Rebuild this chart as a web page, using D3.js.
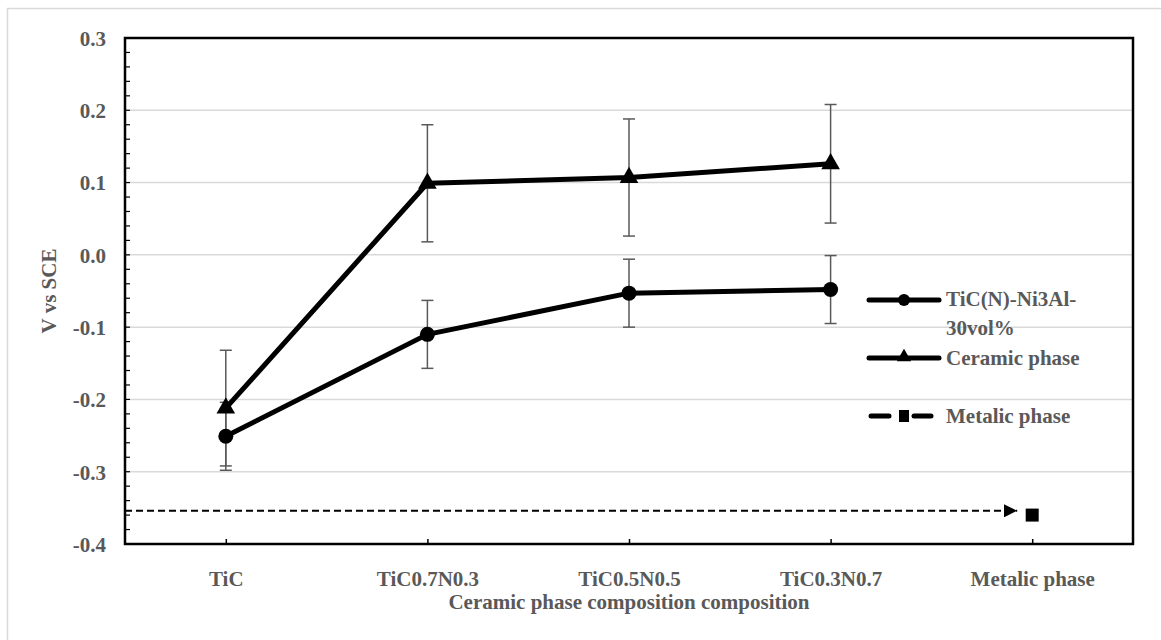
<!DOCTYPE html>
<html>
<head>
<meta charset="utf-8">
<script src="https://cdn.jsdelivr.net/npm/d3@7"></script>
<style>
  body { margin: 0; background: #fff; }
  svg { display: block; }
  text { font-family: "Liberation Serif", "Times New Roman", serif; font-weight: bold; fill: #595959; }
</style>
</head>
<body>
<svg id="chart" width="1161" height="640"></svg>
<script>
// categories on the x axis
const categories = ["TiC", "TiC0.7N0.3", "TiC0.5N0.5", "TiC0.3N0.7", "Metalic phase"]
const yTicks = [0.3, 0.2, 0.1, 0.0, -0.1, -0.2, -0.3, -0.4]

// TiC(N)-Ni3Al-30vol% (circles)
const compositeCats = ["TiC", "TiC0.7N0.3", "TiC0.5N0.5", "TiC0.3N0.7"]
const compositeVals = [-0.251, -0.110, -0.053, -0.048]
const compositeErr = [0.047, 0.047, 0.047, 0.047]

// Ceramic phase (triangles)
const ceramicVals = [-0.212, 0.099, 0.107, 0.126]
const ceramicErr = [0.080, 0.081, 0.081, 0.082]

// Metalic phase (single square + dashed reference line)
const metalicCat = "Metalic phase"
const metalicVal = -0.360
const metalicLineVal = -0.354

const fontSize = "21px"

const svg = d3.select("#chart")
const margin = { top: 38, right: 28, bottom: 96, left: 125 }
const width = 1161 - margin.left - margin.right
const height = 640 - margin.top - margin.bottom

// outer chart frame
svg.append("rect")
  .attr("x", 7.5).attr("y", 8.5)
  .attr("width", 1170).attr("height", 660)
  .attr("fill", "none")
  .attr("stroke", "#d9d9d9")
  .attr("stroke-width", 1.5)

const g = svg.append("g").attr("transform", `translate(${margin.left},${margin.top})`)

const x = d3.scalePoint().domain(categories).range([0, width]).padding(0.5)
const y = d3.scaleLinear().domain([-0.4, 0.3]).range([height, 0])

// gridlines
g.append("g")
  .selectAll("line")
  .data(yTicks.filter(d => d > -0.39 && d < 0.29))
  .join("line")
    .attr("x1", 0).attr("x2", width)
    .attr("y1", d => y(d)).attr("y2", d => y(d))
    .attr("stroke", "#d9d9d9")
    .attr("stroke-width", 1.5)

// minor ticks on the y axis (inside)
const minor = d3.range(-0.4, 0.3001, 0.02)
g.append("g")
  .selectAll("line")
  .data(minor)
  .join("line")
    .attr("x1", 0).attr("x2", 5)
    .attr("y1", d => y(d)).attr("y2", d => y(d))
    .attr("stroke", "#000")
    .attr("stroke-width", 1.2)

// y axis labels (plain hyphen for negatives, like the original)
const fmt = d => d3.format(".1f")(d).replace("\u2212", "-")
const yAxis = g.append("g")
  .call(d3.axisLeft(y).tickValues(yTicks).tickFormat(fmt).tickSize(0).tickPadding(19))
yAxis.attr("font-family", null).attr("font-size", null)
yAxis.select(".domain").remove()
yAxis.selectAll("text")
  .attr("font-size", fontSize)
  .attr("fill", null)
  .attr("dy", "0.35em")

// x axis labels + ticks pointing up
const xAxis = g.append("g")
  .attr("transform", `translate(0,${height})`)
  .call(d3.axisBottom(x).tickSize(-5).tickPadding(27))
xAxis.attr("font-family", null).attr("font-size", null)
xAxis.select(".domain").remove()
xAxis.selectAll(".tick line").attr("stroke", "#000").attr("stroke-width", 1.5)
xAxis.selectAll("text")
  .attr("font-size", fontSize)
  .attr("fill", null)

// plot border
g.append("rect")
  .attr("x", 0).attr("y", 0)
  .attr("width", width).attr("height", height)
  .attr("fill", "none")
  .attr("stroke", "#000")
  .attr("stroke-width", 2.5)

// dashed metalic line with arrow
svg.append("defs").append("marker")
  .attr("id", "arrow")
  .attr("viewBox", "0 0 10 10")
  .attr("refX", 10).attr("refY", 5)
  .attr("markerWidth", 6).attr("markerHeight", 6)
  .attr("markerUnits", "strokeWidth")
  .attr("orient", "auto")
  .append("path")
    .attr("d", "M0,0 L10,5 L0,10 Z")
    .attr("fill", "#000")

g.append("line")
  .attr("x1", 0)
  .attr("x2", x(metalicCat) - 15)
  .attr("y1", y(metalicLineVal)).attr("y2", y(metalicLineVal))
  .attr("stroke", "#000")
  .attr("stroke-width", 2.2)
  .attr("stroke-dasharray", "7,4")
  .attr("marker-end", "url(#arrow)")

g.append("rect")
  .attr("x", x(metalicCat) - 6.5)
  .attr("y", y(metalicVal) - 6.5)
  .attr("width", 13).attr("height", 13)
  .attr("fill", "#000")

// error bars
function errorBars(vals, errs) {
  const eb = g.append("g")
  compositeCats.forEach((c, i) => {
    const cx = x(c)
    const lo = y(vals[i] - errs[i]), hi = y(vals[i] + errs[i])
    eb.append("line").attr("x1", cx).attr("x2", cx).attr("y1", lo).attr("y2", hi)
      .attr("stroke", "#595959").attr("stroke-width", 1.5)
    ;[lo, hi].forEach(yy => {
      eb.append("line").attr("x1", cx - 6).attr("x2", cx + 6).attr("y1", yy).attr("y2", yy)
        .attr("stroke", "#595959").attr("stroke-width", 1.5)
    })
  })
}
errorBars(ceramicVals, ceramicErr)
errorBars(compositeVals, compositeErr)

const line = d3.line().x(d => x(d.c)).y(d => y(d.v))
const ceramicData = compositeCats.map((c, i) => ({ c, v: ceramicVals[i] }))
const compositeData = compositeCats.map((c, i) => ({ c, v: compositeVals[i] }))

g.append("path").datum(ceramicData).attr("d", line)
  .attr("fill", "none").attr("stroke", "#000").attr("stroke-width", 5).attr("stroke-linejoin", "round")
g.append("path").datum(compositeData).attr("d", line)
  .attr("fill", "none").attr("stroke", "#000").attr("stroke-width", 5).attr("stroke-linejoin", "round")

const tri = d3.symbol().type(d3.symbolTriangle).size(150)
g.selectAll(".tri").data(ceramicData).join("path")
  .attr("class", "tri")
  .attr("transform", d => `translate(${x(d.c)},${y(d.v)})`)
  .attr("d", tri).attr("fill", "#000")

g.selectAll(".dot").data(compositeData).join("circle")
  .attr("class", "dot")
  .attr("cx", d => x(d.c)).attr("cy", d => y(d.v))
  .attr("r", 7.5).attr("fill", "#000")

// legend
const legend = svg.append("g")
const lx1 = 869, lx2 = 939, ltx = 946
// composite
legend.append("line").attr("x1", lx1).attr("x2", lx2).attr("y1", 300).attr("y2", 300)
  .attr("stroke", "#000").attr("stroke-width", 5).attr("stroke-linecap", "round")
legend.append("circle").attr("cx", (lx1 + lx2) / 2).attr("cy", 300).attr("r", 6).attr("fill", "#000")
legend.append("text").attr("x", ltx).attr("y", 306).attr("font-size", fontSize).text("TiC(N)-Ni3Al-")
legend.append("text").attr("x", ltx).attr("y", 335).attr("font-size", fontSize).text("30vol%")
// ceramic
legend.append("line").attr("x1", lx1).attr("x2", lx2).attr("y1", 358).attr("y2", 358)
  .attr("stroke", "#000").attr("stroke-width", 5).attr("stroke-linecap", "round")
legend.append("path").attr("transform", `translate(${(lx1 + lx2) / 2},357)`)
  .attr("d", d3.symbol().type(d3.symbolTriangle).size(90)).attr("fill", "#000")
legend.append("text").attr("x", ltx).attr("y", 365).attr("font-size", fontSize).text("Ceramic phase")
// metalic: dash, square, dash
;[[871, 889], [914, 931]].forEach(([a, b]) => {
  legend.append("line").attr("x1", a).attr("x2", b).attr("y1", 416).attr("y2", 416)
    .attr("stroke", "#000").attr("stroke-width", 5).attr("stroke-linecap", "round")
})
legend.append("rect").attr("x", 899).attr("y", 410).attr("width", 10).attr("height", 12)
  .attr("fill", "#000")
legend.append("text").attr("x", ltx).attr("y", 423).attr("font-size", fontSize).text("Metalic phase")

// axis titles
svg.append("text")
  .attr("x", margin.left + width / 2).attr("y", 609)
  .attr("text-anchor", "middle")
  .attr("font-size", fontSize)
  .text("Ceramic phase composition composition")

svg.append("text")
  .attr("transform", `translate(56,${margin.top + height / 2}) rotate(-90)`)
  .attr("text-anchor", "middle")
  .attr("font-size", fontSize)
  .text("V vs SCE")
</script>
</body>
</html>
